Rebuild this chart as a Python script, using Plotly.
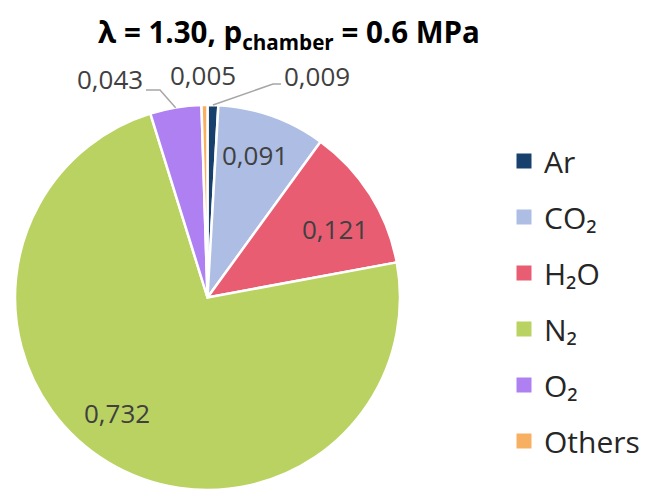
import math
import plotly.graph_objects as go

# Gas composition (mole fractions) of the exhaust
species = ["Ar", "CO₂", "H₂O", "N₂", "O₂", "Others"]
fractions = [0.009, 0.091, 0.121, 0.732, 0.043, 0.005]
value_text = ["0,009", "0,091", "0,121", "0,732", "0,043", "0,005"]
colors = ["#17406d", "#adbde3", "#e95d73", "#bad262", "#ae80f2", "#f7b062"]

W, H = 650, 490
FONT = "Open Sans, Noto Sans, DejaVu Sans, sans-serif"

# pie geometry in pixels
CX, CY, R = 207.5, 297.5, 192.5

# label placement: inside labels (radius fraction, angle shift in degrees)
inside = {1: (0.78, -1.0), 2: (0.75, 4.0), 3: (0.76, 7.0)}
# outside labels: text centre (px) and elbow point of the leader line (px)
outside = {
    0: dict(text=(317, 76), elbow=(273, 84), line=True),
    5: dict(text=(203, 75), elbow=None, line=False),
    4: dict(text=(110, 79), elbow=(160, 90), line=True),
}


def px(x):
    return x / W


def py(y):
    return 1 - y / H


total = sum(fractions)
mids = []
acc = 0.0
for f in fractions:
    mids.append(360.0 * (acc + f / 2) / total)
    acc += f


def polar(frac, ang_deg):
    a = math.radians(ang_deg)
    return CX + frac * R * math.sin(a), CY - frac * R * math.cos(a)


fig = go.Figure()
fig.add_trace(go.Pie(
    values=fractions,
    labels=species,
    sort=False,
    direction="clockwise",
    rotation=0,
    textinfo="none",
    hoverinfo="label+value",
    marker=dict(colors=colors, line=dict(color="white", width=2.5)),
    domain=dict(x=[px(CX - R), px(CX + R)], y=[py(CY + R), py(CY - R)]),
    showlegend=False,
))

# legend entries, one group each so the item spacing can be widened
for i, (name, col) in enumerate(zip(species, colors)):
    fig.add_trace(go.Scatter(
        x=[None], y=[None], mode="markers", name=name,
        marker=dict(symbol="square", size=15, color=col),
        legendgroup=f"g{i}", showlegend=True, hoverinfo="skip",
    ))

annotations = []
shapes = []
for i, (frac, shift) in inside.items():
    x, y = polar(frac, mids[i] + shift)
    annotations.append(dict(
        x=px(x), y=py(y), xref="paper", yref="paper", text=value_text[i],
        showarrow=False, xanchor="center", yanchor="middle",
        font=dict(family=FONT, size=26, color="#404040"),
    ))

for i, spec in outside.items():
    tx, ty = spec["text"]
    annotations.append(dict(
        x=px(tx), y=py(ty), xref="paper", yref="paper", text=value_text[i],
        showarrow=False, xanchor="center", yanchor="middle",
        font=dict(family=FONT, size=26, color="#404040"),
    ))
    if spec["line"]:
        ex, ey = polar(1.0, mids[i])
        bx, by = spec["elbow"]
        start_x = tx - 36 if bx < tx else tx + 36
        path = f"M {px(start_x)},{py(by)} L {px(bx)},{py(by)} L {px(ex)},{py(ey)}"
        shapes.append(dict(type="path", path=path, xref="paper", yref="paper",
                           line=dict(color="#a6a6a6", width=1.5)))

fig.update_layout(
    width=W, height=H,
    autosize=False,
    margin=dict(l=0, r=0, t=0, b=0),
    paper_bgcolor="white",
    plot_bgcolor="white",
    title=dict(
        text="<b>λ = 1.30, p<sub>chamber</sub> = 0.6 MPa</b>",
        x=289 / W, xanchor="center", y=py(33), yanchor="middle",
        font=dict(family=FONT, size=29.5, color="#000000"),
    ),
    xaxis=dict(visible=False),
    yaxis=dict(visible=False),
    legend=dict(
        x=px(504), xanchor="left", y=py(135), yanchor="top",
        font=dict(family=FONT, size=30, color="#262626"),
        tracegroupgap=14, traceorder="grouped",
        itemsizing="trace", bgcolor="rgba(0,0,0,0)",
    ),
    annotations=annotations,
    shapes=shapes,
)

fig.write_html("out.html")
